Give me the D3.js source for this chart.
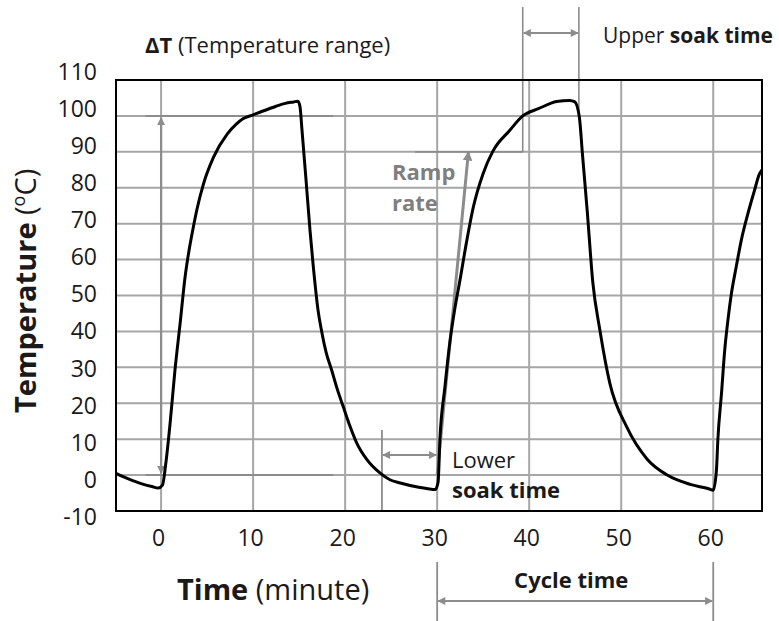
<!DOCTYPE html>
<html><head><meta charset="utf-8">
<script src="https://cdn.jsdelivr.net/npm/d3@7"></script>
<style>
html,body{margin:0;padding:0;background:#fff;}
svg{display:block;font-family:"Open Sans",Lato,sans-serif;}
</style></head>
<body>
<svg id="chart" width="779" height="621"></svg>
<script>
// ---- data ----
const times = [-4.9,-4,-3,-2,-1,-0.3,0.15,0.5,1.0,1.5,2.1,2.6,3.0,3.5,3.9,4.6,5.7,7.2,8.2,8.9,10,11,12.5,13.5,14.4,14.88,15.1,15.31,15.75,16.18,16.56,16.8,17.05,17.45,17.92,18.54,19.11,19.8,20.53,21.25,22.37,23.78,24.87,26,28,29,29.8,30.1,30.3,30.84,31.38,31.9,32.46,33.2,33.92,35,36.06,37.9,39.3,41,43,44.4,44.96,45.45,45.8,46.3,46.92,47.68,48.76,50.6,52.8,55,57.5,59.5,60.0,60.35,60.5,60.9,61.25,61.6,61.98,62.5,63.06,63.78,64.5,64.98,65.3];
const temps = [0.5,-0.6,-1.6,-2.5,-3.2,-3.6,-2.8,3,15,29,43,55,62,69,74,81,88.5,95,97.8,99.2,100.3,101.3,102.7,103.5,103.9,104.1,102.5,96.1,82.2,68.2,57.5,51.5,46,40,34.3,29.2,24.2,19.0,13.6,9.0,4.3,0.6,-1.3,-2.2,-3.4,-3.8,-4.0,-2,10,24.5,37,46,54,65,74.5,84,90.2,96,100,102,104,104.3,103.9,99.7,89,73.8,53.5,40.4,25.6,13.4,4.5,0,-2.6,-3.8,-4.2,1.4,9.7,22.8,34.8,43.2,50.6,58,65.5,72.9,79.4,83.6,85];
const xTicks = [0,10,20,30,40,50,60];
const yTicks = [-10,0,10,20,30,40,50,60,70,80,90,100,110];
const xDomain = [-4.9, 65.3];
const yDomain = [-10, 110];

// annotation anchors (data units)
const deltaT = {t:0, lo:0, hi:100, from:-1.7, to:18.7};
const upperSoak = {t0:39.3, t1:45.4};
const rampRate = {t0:30, v0:0, t1:33.4, v1:90, lineFrom:27.6};
const lowerSoak = {t0:24, t1:30};
const cycle = {t0:30, t1:60};

// ---- layout ----
const svg = d3.select("#chart");
const x = d3.scaleLinear(xDomain, [116, 762]);
const y = d3.scaleLinear(yDomain, [511, 80]);
const yLab = d3.scaleLinear(yDomain, [517, 72]);
const gridC = "#a6a6a6", annC = "#8c8c8c", txtC = "#1a1a1a";

const defs = svg.append("defs");
function marker(id, orient, w, h){
  defs.append("marker").attr("id", id).attr("viewBox","0 0 10 10")
    .attr("refX", 9).attr("refY", 5).attr("markerWidth", w).attr("markerHeight", h)
    .attr("markerUnits","strokeWidth").attr("orient", orient)
    .append("path").attr("d","M0,0 L10,5 L0,10 z").attr("fill", annC);
}
marker("ah","auto",4.2,3.6);
marker("ahs","auto-start-reverse",4.2,3.6);
marker("ahb","auto",3.2,3.2);

// gridlines
const g = svg.append("g");
g.selectAll(".vg").data(xTicks).join("line")
  .attr("x1", d=>x(d)).attr("x2", d=>x(d)).attr("y1", y(110)).attr("y2", y(-10))
  .attr("stroke", gridC).attr("stroke-width", 2);
g.selectAll(".hg").data(yTicks.filter(d=>d>-10 && d<110)).join("line")
  .attr("x1", x(xDomain[0])).attr("x2", x(xDomain[1])).attr("y1", d=>y(d)).attr("y2", d=>y(d))
  .attr("stroke", gridC).attr("stroke-width", 2);

// annotation lines
const a = svg.append("g").attr("stroke", annC).attr("fill","none");
[deltaT.lo, deltaT.hi].forEach(v=>{
  a.append("line").attr("x1", x(deltaT.from)).attr("x2", x(deltaT.to)).attr("y1", y(v)).attr("y2", y(v)).attr("stroke-width",2);
});
a.append("line").attr("x1", x(deltaT.t)).attr("x2", x(deltaT.t))
  .attr("y1", y(deltaT.lo)-2).attr("y2", y(deltaT.hi)+2).attr("stroke-width",2.2)
  .attr("marker-end","url(#ah)").attr("marker-start","url(#ahs)");
a.append("line").attr("x1", x(upperSoak.t0)).attr("x2", x(upperSoak.t0)).attr("y1", 7).attr("y2", y(90)).attr("stroke-width",1.6);
a.append("line").attr("x1", x(upperSoak.t1)).attr("x2", x(upperSoak.t1)).attr("y1", 7).attr("y2", y(101)).attr("stroke-width",1.6);
a.append("line").attr("x1", x(upperSoak.t0)+1).attr("x2", x(upperSoak.t1)-1).attr("y1", 33).attr("y2", 33)
  .attr("stroke-width",2.2).attr("marker-end","url(#ah)").attr("marker-start","url(#ahs)");
a.append("line").attr("x1", x(rampRate.lineFrom)).attr("x2", x(upperSoak.t0)).attr("y1", y(90)).attr("y2", y(90)).attr("stroke-width",1.6);
a.append("line").attr("x1", x(rampRate.t0)).attr("x2", x(rampRate.t1)).attr("y1", y(rampRate.v0)).attr("y2", y(rampRate.v1))
  .attr("stroke-width",3).attr("marker-end","url(#ahb)");
a.append("line").attr("x1", x(lowerSoak.t0)).attr("x2", x(lowerSoak.t0)).attr("y1", 430).attr("y2", y(-10)).attr("stroke-width",1.8);
a.append("line").attr("x1", x(lowerSoak.t0)+1).attr("x2", x(lowerSoak.t1)-1).attr("y1", 455).attr("y2", 455)
  .attr("stroke-width",2.2).attr("marker-end","url(#ah)").attr("marker-start","url(#ahs)");
[cycle.t0, cycle.t1].forEach(t=>{
  a.append("line").attr("x1", x(t)).attr("x2", x(t)).attr("y1", 562).attr("y2", 621).attr("stroke-width",1.8);
});
a.append("line").attr("x1", x(cycle.t0)+1).attr("x2", x(cycle.t1)-1).attr("y1", 601).attr("y2", 601)
  .attr("stroke-width",2.2).attr("marker-end","url(#ah)").attr("marker-start","url(#ahs)");

// plot border
svg.append("rect").attr("x", x(xDomain[0])).attr("y", y(110))
  .attr("width", x(xDomain[1])-x(xDomain[0])).attr("height", y(-10)-y(110))
  .attr("fill","none").attr("stroke","#000").attr("stroke-width",2);

// curve
const pts = times.map((t,i)=>[t, temps[i]]);
svg.append("path").datum(pts)
  .attr("d", d3.line().x(d=>x(d[0])).y(d=>y(d[1])).curve(d3.curveMonotoneX))
  .attr("fill","none").attr("stroke","#000").attr("stroke-width",3).attr("stroke-linejoin","round");

// axes (labels only)
const yAxis = svg.append("g").attr("transform","translate(97,0)")
  .call(d3.axisLeft(yLab).tickValues(yTicks).tickFormat(d=>String(d)).tickSize(0).tickPadding(0));
yAxis.select(".domain").remove();
yAxis.selectAll("text").attr("font-size",23).attr("fill",txtC).attr("font-family","Open Sans");
const xAxis = svg.append("g").attr("transform","translate(-3,530)")
  .call(d3.axisBottom(x).tickValues(xTicks).tickFormat(d=>String(d)).tickSize(0).tickPadding(0));
xAxis.select(".domain").remove();
xAxis.selectAll("text").attr("font-size",23).attr("fill",txtC).attr("font-family","Open Sans");

// titles
const t1 = svg.append("text").attr("x",177).attr("y",600).attr("font-size",29).attr("fill",txtC);
t1.append("tspan").attr("font-weight","bold").text("Time");
t1.append("tspan").text(" (minute)");
const t2 = svg.append("text").attr("transform","translate(36,413) rotate(-90)").attr("font-size",29).attr("fill",txtC);
t2.append("tspan").attr("font-weight","bold").text("Temperature");
t2.append("tspan").text(" (");
t2.append("tspan").attr("font-size",18).attr("dy",-11).text("o");
t2.append("tspan").attr("dy",11).text("C)");

// annotation texts
const fs = 22;
const dt = svg.append("text").attr("x",145).attr("y",53).attr("font-size",fs).attr("fill",txtC);
dt.append("tspan").attr("font-weight","bold").text("ΔT");
dt.append("tspan").text(" (Temperature range)");
const us = svg.append("text").attr("x",603).attr("y",43).attr("font-size",21).attr("fill",txtC);
us.append("tspan").text("Upper ");
us.append("tspan").attr("font-weight","bold").text("soak time");
svg.append("text").attr("x",392).attr("y",180).attr("font-size",fs).attr("font-weight","bold").attr("fill","#7f7f7f").text("Ramp");
svg.append("text").attr("x",392).attr("y",211).attr("font-size",fs).attr("font-weight","bold").attr("fill","#7f7f7f").text("rate");
svg.append("text").attr("x",452).attr("y",468).attr("font-size",fs).attr("fill",txtC).text("Lower");
svg.append("text").attr("x",452).attr("y",498).attr("font-size",fs).attr("font-weight","bold").attr("fill",txtC).text("soak time");
svg.append("text").attr("x",(x(cycle.t0)+x(cycle.t1))/2-4).attr("y",588).attr("text-anchor","middle")
  .attr("font-size",fs).attr("font-weight","bold").attr("fill",txtC).text("Cycle time");
</script>
</body></html>
